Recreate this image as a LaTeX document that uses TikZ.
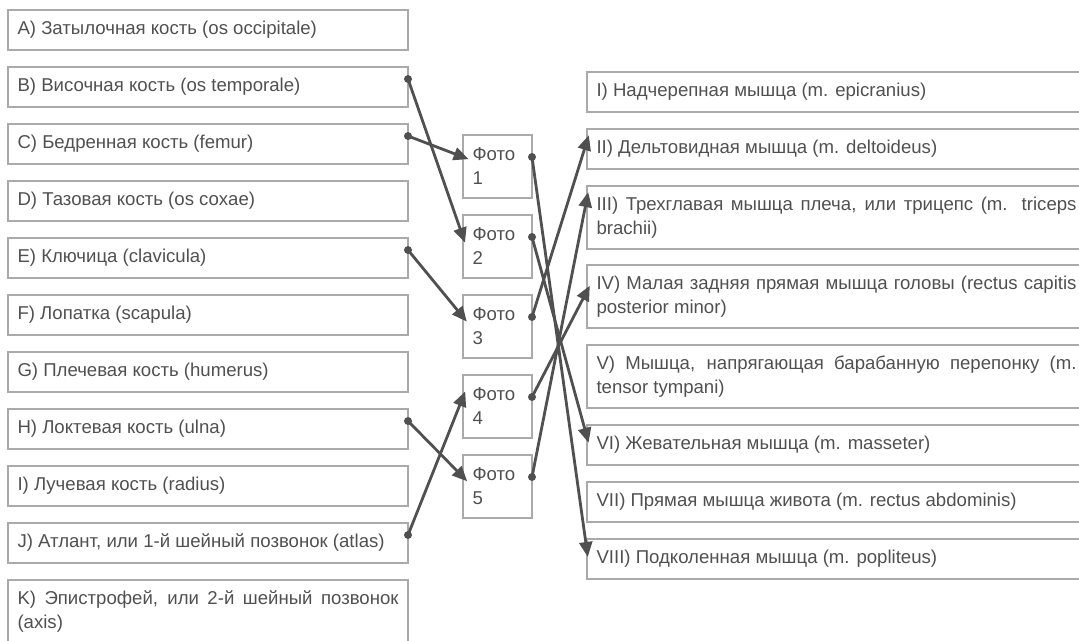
\documentclass[tikz,border=0pt]{standalone}
\usepackage{fontspec}
\setmainfont{Liberation Sans}
\usetikzlibrary{arrows.meta}
\definecolor{boxgray}{HTML}{AAAAAA}
\definecolor{txtgray}{HTML}{505050}
\definecolor{linkgray}{HTML}{505050}
\hyphenpenalty=10000
\exhyphenpenalty=10000
\tikzset{
	card/.style={draw=boxgray, line width=2pt, anchor=north west, inner xsep=9.5pt, inner ysep=0pt, outer sep=0pt, text=txtgray, align=justify, font=\fontsize{18.6}{24}\selectfont},
	bonebox/.style={card, text width=381pt, minimum height=40pt},
	fotobox/.style={card, text width=50pt, minimum height=63pt, align=left},
	musclebox/.style={card, text width=480pt, minimum height=40pt},
	link/.style={draw=linkgray, line width=2.8pt, -{Triangle[length=15pt,width=13pt]}, shorten >=-6pt}
}
\def\joinbox(#1:#2)(#3:#4){\fill[linkgray] ([yshift=-#2pt]#1.north east) circle (4pt); \draw[link] ([yshift=-#2pt]#1.north east) -- ([yshift=-#4pt]#3.north west);}

\begin{document}
\begin{tikzpicture}[x=1pt, y=-1pt]
			%%%%% START %%%%%
			\useasboundingbox (0, 0) rectangle (1079, 640);
			\clip (0, 0) rectangle (1079, 640);
			
			\node[bonebox] (lA) at (8, 10) {A) Затылочная кость (os occipitale)};
			\node[bonebox] (lB) at (8, 67) {B) Височная кость (os temporale)};
			\node[bonebox] (lC) at (8, 124) {C) Бедренная кость (femur)};
			\node[bonebox] (lD) at (8, 181) {D) Тазовая кость (os coxae)};
			\node[bonebox] (lE) at (8, 238) {E) Ключица (clavicula)};
			\node[bonebox] (lF) at (8, 295) {F) Лопатка (scapula)};
			\node[bonebox] (lG) at (8, 352) {G) Плечевая кость (humerus)};
			\node[bonebox] (lH) at (8, 409) {H) Локтевая кость (ulna)};
			\node[bonebox] (lI) at (8, 466) {I) Лучевая кость (radius)};
			\node[bonebox] (lJ) at (8, 523) {J) Атлант, или 1-й шейный позвонок (atlas)};
			\node[bonebox, minimum height=63pt] (lK) at (8, 580) {K) Эпистрофей, или 2-й шейный позвонок\linebreak (axis)};
			
			\node[fotobox] (f1) at (463, 135) {Фото\\1};
			\node[fotobox] (f2) at (463, 215) {Фото\\2};
			\node[fotobox] (f3) at (463, 295) {Фото\\3};
			\node[fotobox] (f4) at (463, 375) {Фото\\4};
			\node[fotobox] (f5) at (463, 455) {Фото\\5};
			
			\node[musclebox] (m1) at (587, 72) {I) Надчерепная мышца (m. epicranius)};
			\node[musclebox] (m2) at (587, 129) {II) Дельтовидная мышца (m. deltoideus)};
			\node[musclebox, minimum height=63pt] (m3) at (587, 186) {III) Трехглавая мышца плеча, или трицепс (m. triceps\linebreak brachii)};
			\node[musclebox, minimum height=63pt] (m4) at (587, 265) {IV) Малая задняя прямая мышца головы (rectus capitis\linebreak posterior minor)};
			\node[musclebox, minimum height=63pt] (m5) at (587, 345) {V) Мышца, напрягающая барабанную перепонку (m.\linebreak tensor tympani)};
			\node[musclebox] (m6) at (587, 425) {VI) Жевательная мышца (m. masseter)};
			\node[musclebox] (m7) at (587, 482) {VII) Прямая мышца живота (m. rectus abdominis)};
			\node[musclebox] (m8) at (587, 539) {VIII) Подколенная мышца (m. popliteus)};
			
			\joinbox(lB:12)(f2:22)
			\joinbox(lC:12)(f1:22)
			\joinbox(lE:12)(f3:22)
			\joinbox(lH:12)(f5:22)
			\joinbox(lJ:12)(f4:22)
			
			\joinbox(f1:22)(m8:12)
			\joinbox(f2:22)(m6:12)
			\joinbox(f3:22)(m2:12)
			\joinbox(f4:22)(m4:26)
			\joinbox(f5:22)(m3:12)
			
			%%%%% END %%%%%
\end{tikzpicture}
\end{document}
